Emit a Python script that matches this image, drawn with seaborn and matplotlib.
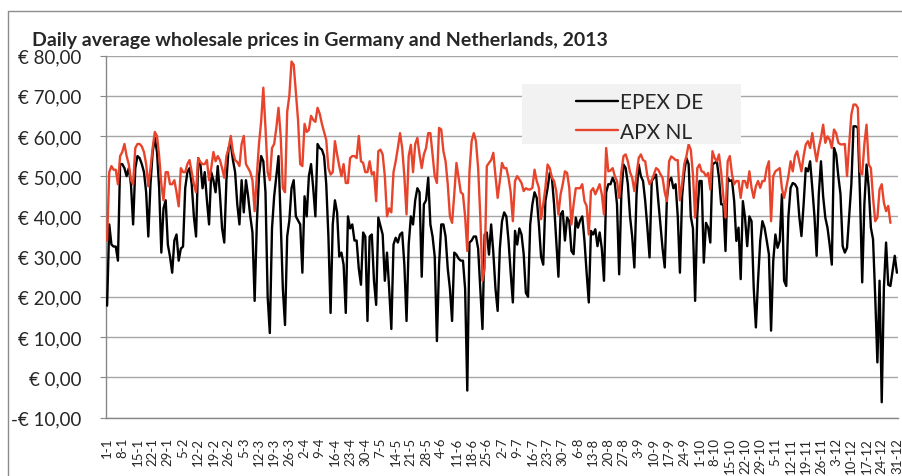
import pandas as pd
import numpy as np
import matplotlib
matplotlib.use("Agg")
import matplotlib.pyplot as plt
import seaborn as sns
from matplotlib.patches import Rectangle
from matplotlib.ticker import FuncFormatter

# calendar of 2013, one category per day
days = pd.date_range("2013-01-01", "2013-12-31", freq="D")

# daily average price, EUR/MWh
epex_de = [
    17.8, 38, 33, 32.5, 32.5, 29, 53, 53, 52, 50,
    52, 48, 38, 52, 55, 54.5, 53, 51, 46, 35,
    48, 56, 59.5, 56, 47, 31, 42, 44, 33, 30,
    26, 34, 35.5, 29, 32, 32.5, 47, 51, 52, 48,
    40, 35, 54.5, 53, 47, 51, 44, 38, 51, 49,
    46, 52.5, 45.5, 37, 33.5, 49, 57, 58, 54, 51,
    43, 38, 49, 41, 49, 45, 40, 36, 19, 38,
    50, 55, 53.7, 46, 20, 11, 37, 45, 50, 55,
    39, 22, 13, 35, 39, 47, 49, 40, 39, 38,
    26, 45, 40, 50, 53, 47, 40, 58, 57, 56.6,
    55, 48, 35, 16, 38, 44, 41, 30, 31, 28,
    16, 40, 37, 38, 34, 34, 27, 23, 36, 35,
    14, 35, 35.5, 24, 18, 39.7, 37.6, 35.5, 24, 31,
    22, 12, 33, 34.7, 33.5, 35.5, 36, 28, 14, 33,
    40, 38, 44, 47, 46, 25, 43, 44, 49.6, 38,
    35, 30, 9, 28, 38, 38, 35, 27, 22, 14,
    31, 30.5, 29.5, 29, 29, 22, -3.3, 33.5, 34, 35,
    35, 32, 22, 12, 35.5, 36, 30.5, 38, 31, 22,
    16.5, 32, 38.8, 41, 40, 34, 26, 18.6, 36.4, 33,
    37, 35.5, 30.6, 21, 20, 38, 43, 46, 44.6, 38,
    30, 28, 43.8, 47, 50.8, 49.6, 43, 34, 25, 40.5,
    41.3, 34, 39.7, 38.8, 31.4, 30.6, 39.7, 37.2, 39, 40,
    34, 26, 18.6, 36.4, 35.5, 36.8, 32.6, 36, 32, 24,
    46, 48, 48, 49.6, 48.3, 43, 25.6, 45.5, 52.9, 52,
    48, 40, 35, 27.3, 45.5, 52.9, 50, 48.8, 43.8, 37.2,
    29.8, 48.8, 49.6, 50.4, 44, 38, 32, 27.3, 44.6, 48.8,
    49.6, 47, 48, 40, 26, 45, 51, 54.5, 53, 40,
    37, 19, 40.5, 48.8, 48.8, 28.5, 38.4, 37.2, 33.5, 52.9,
    53.3, 53.7, 49.6, 43, 43, 31.4, 49.6, 48.8, 49, 43.8,
    33.9, 37.2, 24.4, 43.8, 39.7, 32.6, 40, 38.8, 22.3, 12.4,
    24, 33.9, 38.8, 37.2, 34, 30.6, 11.6, 28.9, 35.5, 32.2,
    33.9, 45.5, 24, 22.7, 40, 47.1, 48.3, 48, 47.1, 40,
    35.1, 43, 52, 51.2, 53.7, 47.1, 40, 30.2, 45.5, 53.7,
    45, 39.7, 37.2, 33, 28, 57, 55.4, 50, 45.5, 32.6,
    31, 32.2, 40, 48, 62.4, 62.4, 62, 45, 23.6, 43,
    52.9, 47.1, 37.2, 34.3, 20, 3.7, 24, -6.2, 22.3, 33.5,
    23, 22.7, 26.4, 30.2, 26,
]

apx_nl = [
    34, 51, 52.5, 51.6, 51.6, 48, 55, 56, 58, 55,
    53, 49, 48, 57, 58, 58, 57.4, 56, 53, 47.5,
    52, 57, 61, 60, 55, 48, 44, 51, 51, 48,
    48, 49, 46, 42.5, 52, 51, 51, 53, 54, 51,
    48, 46, 54.5, 53.5, 53, 53, 54, 49, 52, 56,
    53.7, 55, 54, 52, 49.6, 55, 57, 60, 56, 54,
    53.5, 52.5, 58, 60, 53, 52, 51, 49, 41.3, 50,
    58, 63.6, 72, 62, 51, 49, 57, 58, 62, 67,
    60, 47, 46, 66, 70, 78.5, 77.7, 71, 64, 53,
    52.5, 63, 61, 61.5, 65, 64, 63.5, 67, 65.5, 63,
    61, 59, 52, 50.4, 51, 58.7, 55.4, 52.5, 50, 53,
    48.3, 48.3, 54.5, 55, 55, 54.5, 60, 53.7, 53.3, 51,
    51, 53.7, 50.4, 51, 43.8, 56.2, 56.6, 55.4, 50, 40,
    42, 41, 51, 53.7, 57, 60.7, 57, 50, 40.5, 55,
    57.8, 51, 58, 59.5, 55.4, 52, 55.4, 57, 60.7, 60.7,
    55.4, 50, 48.3, 62, 61.6, 56.2, 53.7, 48, 40, 38.4,
    45.5, 53.3, 49.6, 46, 45.5, 40, 31.4, 51, 58.7, 60.7,
    58.7, 52, 40, 24, 27, 52.5, 53.3, 54, 55.8, 50,
    44.6, 48.8, 53.3, 52, 52, 49.6, 46, 38.8, 48.8, 50,
    49.2, 48.3, 46.3, 47, 46.7, 46.7, 47.1, 51.6, 48.8, 47.1,
    39.3, 43, 47.1, 52.9, 52, 49.6, 48.8, 46.3, 40.5, 45.5,
    48, 51.2, 50.8, 47.1, 38, 43, 47, 47, 47, 48,
    43.8, 42.6, 35.5, 46.3, 47, 45.5, 46.7, 48, 45.5, 40.5,
    57, 51.2, 51.4, 52, 50, 48.8, 44.6, 51, 55, 55.4,
    53.7, 51, 49.6, 46.3, 50.4, 54.5, 55.4, 54, 53.7, 50,
    48, 49, 50.4, 52, 51.6, 50.5, 49.6, 46, 43.8, 53.7,
    54.9, 54.5, 54, 54, 44, 48, 53, 55, 57.9, 56.6,
    50.4, 39.7, 52, 52.9, 51.2, 51, 50, 50.8, 46.7, 56.2,
    54.5, 53.7, 55.4, 51, 45, 39.7, 53.7, 55, 50.4, 48,
    48.8, 48.8, 44.6, 48.8, 48.8, 47.1, 51.2, 47.1, 44.6, 47.5,
    48.8, 47.1, 48.8, 48.8, 52, 53.7, 38.8, 50, 51.2, 51.6,
    52, 47, 44.6, 47.1, 50, 53.7, 51.2, 55, 56.2, 53.7,
    51.2, 55, 57.9, 58.7, 57, 60.7, 57, 53.7, 57, 59.5,
    62.8, 58.3, 59.9, 59.1, 57, 61.6, 60.7, 58.3, 57.9, 57.9,
    58, 50, 57.9, 65.3, 67.8, 67.8, 67, 51.2, 50.4, 58,
    62.8, 52.9, 52, 44.6, 38.8, 39.7, 46.7, 48, 43.4, 41.3,
    42.6, 38.4,
]

series_names = ["EPEX DE", "APX NL"]
series_colors = ["#000000", "#e8442c"]
title = "Daily average wholesale prices in Germany and Netherlands, 2013"

n = len(days)
wide = pd.DataFrame({
    "day": np.arange(n),
    "EPEX DE": epex_de,
    "APX NL": apx_nl + [np.nan] * (n - len(apx_nl)),
})
df = wide.melt(id_vars="day", var_name="series", value_name="price").dropna()

sns.set_style("white")
plt.rcParams["font.family"] = ["Lato", "DejaVu Sans"]

W, H = 902, 477
fig = plt.figure(figsize=(W / 100, H / 100), dpi=100)
ax = fig.add_axes([106 / W, 1 - 418.5 / H, (898 - 106) / W, (418.5 - 56.5) / H])

sns.lineplot(data=df, x="day", y="price", hue="series", hue_order=series_names,
             palette=series_colors, estimator=None, linewidth=1.7, ax=ax,
             legend=False, zorder=3)

ax.set_xlim(-0.5, n - 0.5)
ax.set_ylim(-10, 80)
ax.set_yticks(range(-10, 81, 10))
ax.yaxis.set_major_formatter(FuncFormatter(
    lambda v, p: ("-€ " if v < 0 else "€ ") + f"{abs(v):.2f}".replace(".", ",")))
ax.grid(axis="y", color="#a6a6a6", linewidth=1.0)
ax.set_axisbelow(True)

ticks = list(range(0, n, 7))
ax.set_xticks(ticks)
ax.set_xticklabels([f"{days[i].day}-{days[i].month}" for i in ticks], rotation=90)
ax.set_xlabel("")
ax.set_ylabel("")

for s in ["top", "right"]:
    ax.spines[s].set_visible(False)
for s in ["left", "bottom"]:
    ax.spines[s].set_color("#888888")
    ax.spines[s].set_linewidth(1.0)

ax.tick_params(axis="y", labelsize=13.5, length=4, color="#888888", pad=13.5, left=True)
ax.tick_params(axis="x", labelsize=9.5, length=0, pad=14)

fig.text(32 / W, 1 - 46 / H, title, fontsize=14, fontweight="bold",
         family=["Lato", "DejaVu Sans"], va="baseline")

# legend box (light grey, no border)
ax.add_patch(Rectangle((522 / W, 1 - 145 / H), 219 / W, 60 / H, transform=fig.transFigure,
                       facecolor="#f2f2f2", edgecolor="none", zorder=5, clip_on=False))
leg = ax.legend(ax.lines[:2], series_names, loc="center left",
                bbox_to_anchor=(566 / W, 1 - 118 / H), bbox_transform=fig.transFigure,
                frameon=False, fontsize=15, borderpad=0, handlelength=2.0,
                handletextpad=0.1, labelspacing=0.45)
leg.set_zorder(6)

# chart area border
fig.add_artist(plt.Line2D([8 / W, 1], [1 - 12 / H, 1 - 12 / H], transform=fig.transFigure,
                          color="#8c8c8c", linewidth=1.0))
fig.add_artist(plt.Line2D([8 / W, 8 / W], [0, 1 - 12 / H], transform=fig.transFigure,
                          color="#8c8c8c", linewidth=1.0))

fig.savefig("out.png", dpi=100)
